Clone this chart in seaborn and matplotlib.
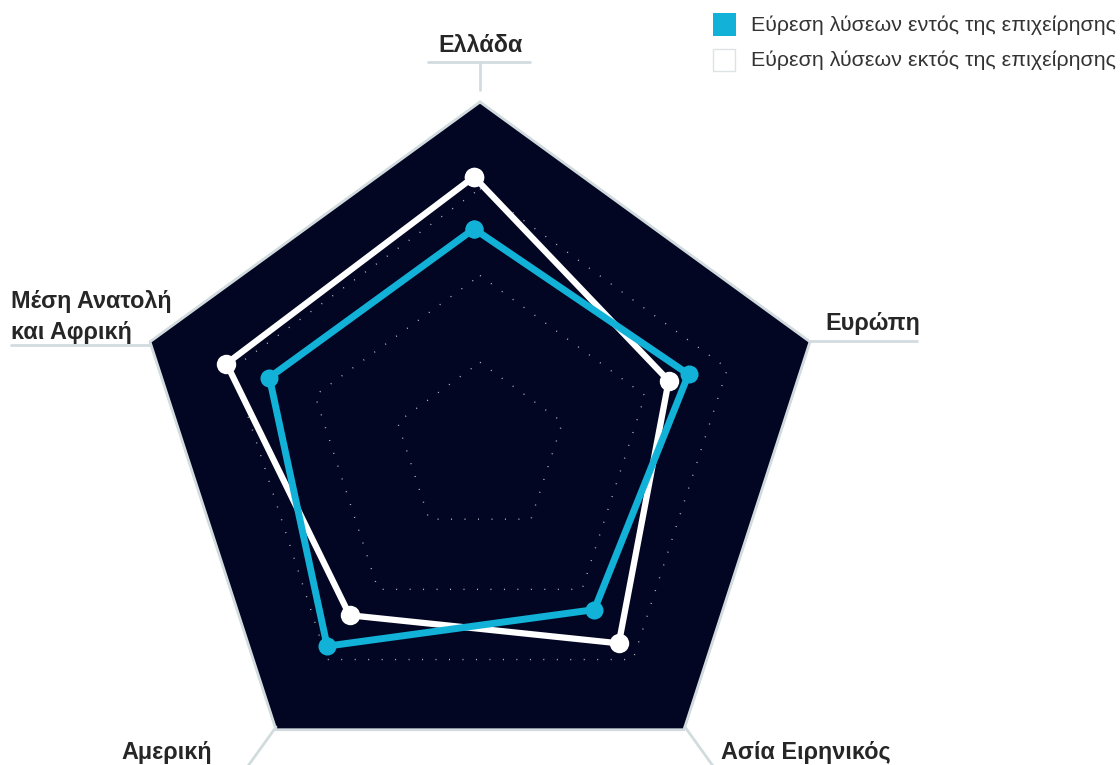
import numpy as np
import pandas as pd
import seaborn as sns
import matplotlib
matplotlib.use("Agg")
from matplotlib import pyplot as plt
from matplotlib.lines import Line2D
from matplotlib.patches import Rectangle

# data (0-100 scale)
regions = ["Ελλάδα", "Ευρώπη", "Ασία Ειρηνικός", "Αμερική", "Μέση Ανατολή\nκαι Αφρική"]
series_names = ["Εύρεση λύσεων εντός της επιχείρησης", "Εύρεση λύσεων εκτός της επιχείρησης"]
inside_values = [62, 65, 59, 72, 62]
outside_values = [77, 59, 71, 61, 75]
grid_levels = [25, 50, 75]
r_max = 100

NAVY = "#020622"
TEAL = "#12b1d7"
EDGE = "#d2dcdf"
TEXT = "#262626"

sns.set_theme(style="white")
plt.rcParams["font.family"] = ["Liberation Sans", "DejaVu Sans"]

W, H = 1120, 765
fig = plt.figure(figsize=(W / 100, H / 100), dpi=100)


def fx(x):
    return x / W


def fy(y):
    return 1 - y / H


def polar_axes(cx, cy, R):
    a = fig.add_axes([fx(cx - R), fy(cy + R), 2 * R / W, 2 * R / H], projection="polar")
    a.set_theta_offset(np.pi / 2)
    a.set_theta_direction(-1)
    a.set_facecolor("none")
    a.spines["polar"].set_visible(False)
    return a


def clean(a):
    a.set_xlabel("")
    a.set_ylabel("")
    a.grid(False)
    a.set_xticks([])
    a.set_yticks([])
    a.set_ylim(0, r_max)


theta = np.linspace(0, 2 * np.pi, len(regions), endpoint=False)
theta_closed = np.append(theta, theta[0] + 2 * np.pi)

# grid axes
ax = polar_axes(480, 449, 347)
ax.fill(theta_closed, [r_max] * len(theta_closed), color=NAVY, zorder=1, clip_on=False)
ax.plot(theta_closed, [r_max] * len(theta_closed), color=EDGE, lw=2, zorder=1.5, clip_on=False)
for lev in grid_levels:
    ax.plot(theta_closed, [lev] * len(theta_closed), color="#b8bcc8", lw=1.0,
            linestyle=(0, (0.7, 9)), zorder=2)
clean(ax)

# series axes (the series in the reference sit a few px up-left of the grid)
ax2 = polar_axes(474, 444, 347)

rows = []
for name, vals in [(series_names[1], outside_values), (series_names[0], inside_values)]:
    for i, (t, v) in enumerate(zip(theta_closed, vals + vals[:1])):
        rows.append({"series": name, "order": i, "theta": t, "value": v})
df = pd.DataFrame(rows)

for name, col, lw, ms, z in [(series_names[1], "white", 4.5, 14, 3),
                             (series_names[0], TEAL, 5, 13, 4)]:
    sns.lineplot(data=df[df.series == name], x="theta", y="value", sort=False,
                 estimator=None, color=col, lw=lw, marker="o", markersize=ms,
                 markeredgewidth=0, ax=ax2, zorder=z, clip_on=False, legend=False)
clean(ax2)


def seg(x0, y0, x1, y1):
    fig.add_artist(Line2D([fx(x0), fx(x1)], [fy(y0), fy(y1)], color=EDGE, lw=2))


lab = dict(color=TEXT, fontsize=16.8, fontweight="bold")

# Ελλάδα
fig.text(fx(481), fy(45), regions[0], ha="center", va="center", **lab)
seg(428, 62, 530, 62)
seg(480, 62, 480, 90)
# Ευρώπη
fig.text(fx(825), fy(323), regions[1], ha="left", va="center", **lab)
seg(810, 341, 917, 341)
# Μέση Ανατολή
fig.text(fx(11), fy(317), regions[4], ha="left", va="center", linespacing=1.42, **lab)
seg(11, 345, 150, 345)
# Αμερική
fig.text(fx(121), fy(753), regions[3], ha="left", va="center", **lab)
seg(276, 727, 248, 766)
# Ασία Ειρηνικός
fig.text(fx(721), fy(753), regions[2], ha="left", va="center", **lab)
seg(685, 727, 713, 766)

# legend
fig.add_artist(Rectangle((fx(713), fy(36)), 23 / W, 23 / H, transform=fig.transFigure,
                         facecolor=TEAL, edgecolor="none"))
fig.add_artist(Rectangle((fx(713), fy(71)), 22 / W, 22 / H, transform=fig.transFigure,
                         facecolor="white", edgecolor="#dde3e5", lw=1))
fig.text(fx(751), fy(25), series_names[0], ha="left", va="center", color="#333333", fontsize=15.4)
fig.text(fx(751), fy(60), series_names[1], ha="left", va="center", color="#333333", fontsize=15.4)

fig.savefig("out.png", dpi=100, facecolor="white")
